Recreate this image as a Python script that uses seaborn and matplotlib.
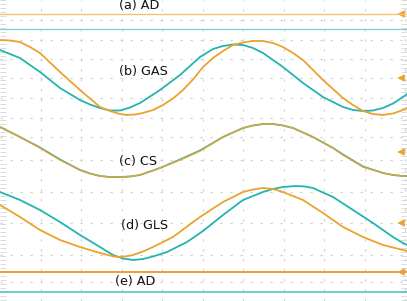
import numpy as np
import pandas as pd
import matplotlib
matplotlib.use("Agg")
import matplotlib.pyplot as plt
from matplotlib.ticker import MultipleLocator
import seaborn as sns

# Trace values (horizontal position, vertical position, in screen px)
# (a) AD - flat lines
a_x = [0, 407]
a_orange = [14, 14]
a_teal = [29, 29]

# (b) GAS
b_x_orange = [0, 10, 20, 30, 40, 60, 80, 100, 110, 120, 127, 135, 143, 153, 163, 173, 183, 193, 203, 213, 223, 233,
              243, 253, 263, 273, 283, 293, 303, 323, 343, 353, 363, 373, 383, 393, 403, 407]
b_orange = [40, 40.5, 42, 47, 53, 72, 90, 107, 111, 114, 115, 114.5, 113, 110, 105, 98.5, 90, 79.5, 67, 58, 51, 45,
            42.5, 41, 41, 43, 47, 53, 60, 80, 98, 105, 111, 114, 115, 113.5, 110, 108]
b_x_teal = [0, 20, 40, 60, 80, 90, 100, 110, 120, 130, 140, 160, 180, 200, 213, 223, 233, 243, 253, 263,
            283, 303, 323, 343, 353, 363, 373, 383, 393, 403, 407]
b_teal = [50, 58, 72, 88, 100, 104.5, 108, 110.5, 110.5, 107.5, 103, 90, 75, 57, 49, 46, 44.5, 45, 48, 53,
          67, 83, 97, 107, 110, 111, 110.5, 108, 103.5, 97, 94]

# (c) CS - both traces almost on top of each other
c_x = [0, 20, 40, 60, 80, 90, 100, 110, 120, 130, 140, 160, 180, 200, 223, 243, 253, 263, 273, 283,
       293, 313, 333, 343, 363, 383, 393, 403, 407]
c_orange = [127, 137, 148, 160, 170, 173.5, 176, 177, 177, 176.5, 175, 168, 160, 151, 137, 128, 125.5, 124, 124, 125.5,
            128, 137, 148, 155, 167, 173, 175, 176, 176]
c_teal = [127, 137, 147.5, 159.5, 170, 173.5, 176, 177, 177, 176.5, 175, 168, 159.5, 150.5, 137, 128, 125.5, 124, 124, 125.5,
          128, 137, 148, 154.5, 166.5, 173, 175, 176, 176]

# (d) GLS
d_x_orange = [0, 20, 40, 60, 80, 100, 110, 117, 125, 133, 143, 153, 173, 193, 203, 223, 243, 253, 263, 273,
              283, 303, 323, 343, 363, 383, 403, 407]
d_orange = [205, 217, 230, 240, 247, 253, 255.5, 257, 256.5, 255, 251.5, 247, 237, 222, 215, 202, 192, 189.5, 188, 189,
            192, 200, 213, 227, 237, 245, 250, 251]
d_x_teal = [0, 20, 40, 60, 80, 100, 113, 123, 133, 143, 153, 167, 187, 203, 223, 243, 263, 273, 283, 296,
            305, 313, 333, 353, 373, 393, 403, 407]
d_teal = [192, 200, 210, 222, 235, 247, 255, 258.5, 260, 259, 256.5, 252, 242, 231, 215, 200, 192, 189, 187, 186,
          186.5, 188, 197, 210, 223, 237, 243, 245]

# (e) AD - flat lines
e_x = [0, 407]
e_orange = [272, 272]
e_teal = [292, 292]

labels = ["(a) AD", "(b) GAS", "(c) CS", "(d) GLS", "(e) AD"]
label_x = [139, 143, 138, 145, 135]
label_y = [5, 71, 162, 225, 282]

# channel markers on the right edge
marker_y = [14, 78, 152, 223, 272]

ORANGE = "#eba22e"
TEAL = "#22b4ae"
LIGHT_ORANGE = "#f2c36e"
LIGHT_TEAL = "#7ccfcb"

sns.set_theme(style="white")
plt.rcParams["font.family"] = ["DejaVu Sans"]

fig = plt.figure(figsize=(4.07, 3.01), dpi=100)
ax = fig.add_axes([0, 0, 1, 1])

traces = [
    (a_x, a_teal, LIGHT_TEAL, 0.9),
    (a_x, a_orange, LIGHT_ORANGE, 1.0),
    (b_x_teal, b_teal, TEAL, 1.3),
    (b_x_orange, b_orange, ORANGE, 1.3),
    (c_x, c_teal, TEAL, 1.3),
    (c_x, c_orange, ORANGE, 1.0),
    (d_x_teal, d_teal, TEAL, 1.3),
    (d_x_orange, d_orange, ORANGE, 1.3),
    (e_x, e_teal, "#4cc0bc", 1.1),
    (e_x, e_orange, ORANGE, 1.4),
]
for xs, ys, col, lw in traces:
    df = pd.DataFrame({"t": xs, "v": ys})
    sns.lineplot(data=df, x="t", y="v", ax=ax, color=col, lw=lw,
                 estimator=None, sort=False)

sns.scatterplot(x=[401] * len(marker_y), y=marker_y, ax=ax, marker="<",
                color=ORANGE, s=30, edgecolor="none")

for lab, lx, ly in zip(labels, label_x, label_y):
    ax.text(lx, ly, lab, ha="center", va="center", fontsize=9.2, color="#111111")

# scope graticule
ax.set_xlim(0, 407)
ax.set_ylim(301, 0)
ax.set_xticks(np.arange(1, 11) * 40.5)
ax.set_yticks([20, 40, 59, 78, 98, 118, 137, 160, 192, 223, 255, 282])
ax.grid(True, color="#cdcdcd", lw=0.8, linestyle=(0, (2, 7)))
ax.yaxis.set_minor_locator(MultipleLocator(4))
ax.tick_params(which="major", length=0, labelleft=False, labelbottom=False)
ax.tick_params(which="minor", axis="y", direction="in", length=4, width=0.6,
               color="#d6d6d6", left=True, right=True)
ax.set_xlabel("")
ax.set_ylabel("")
for s in ax.spines.values():
    s.set_visible(False)

fig.savefig("out.png", dpi=100)
